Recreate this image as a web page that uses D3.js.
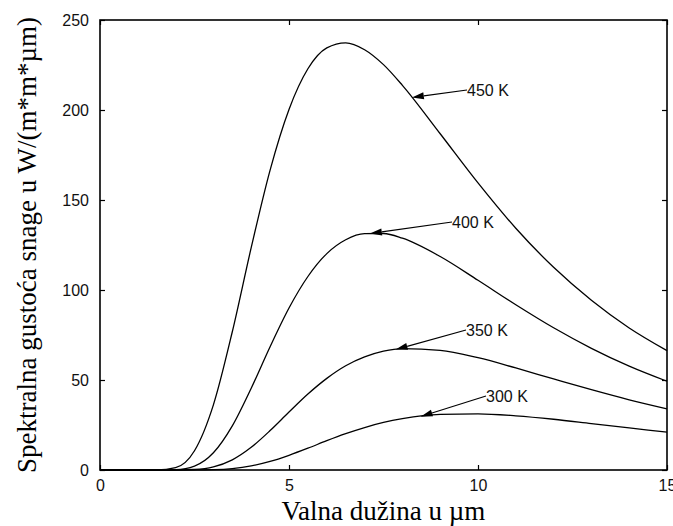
<!DOCTYPE html>
<html>
<head>
<meta charset="utf-8">
<script src="https://cdn.jsdelivr.net/npm/d3@7"></script>
<style>
  body { margin: 0; background: #fff; }
</style>
</head>
<body>
<div id="chart"></div>
<script>
// valna duzina (um) i ocitane vrijednosti za svaku temperaturu
const wavelengths = [0, 1, 1.5, 2, 2.5, 3, 3.5, 4, 4.5, 5, 5.5, 6, 6.5, 7, 7.5, 8, 9, 10, 11, 12, 13, 14, 15];
const t450 = [0, 0, 0.03, 1.3, 10.7, 36.2, 76.8, 123.5, 166.6, 200.3, 222.9, 234.5, 237.3, 233.5, 225.2, 213.7, 186.8, 159.5, 134.3, 112.6, 94.3, 78.9, 66.3];
const t400 = [0, 0, 0, 0.18, 2.16, 9.56, 24.5, 45.4, 68.5, 90.0, 107.5, 120.2, 127.9, 131.3, 131.4, 128.8, 118.6, 105.4, 91.8, 79.0, 67.6, 57.7, 49.3];
const t350 = [0, 0, 0, 0.01, 0.28, 1.72, 5.65, 12.6, 21.9, 32.2, 42.2, 50.9, 57.9, 62.8, 66.0, 67.4, 66.5, 62.4, 56.7, 50.6, 44.6, 39.0, 34.0];
const t300 = [0, 0, 0, 0, 0.02, 0.18, 0.80, 2.27, 4.77, 8.18, 12.1, 16.3, 20.2, 23.6, 26.4, 28.5, 30.9, 31.2, 30.1, 28.2, 25.8, 23.4, 21.0];

const seriesNames = ["450 K", "400 K", "350 K", "300 K"];
const seriesValues = [t450, t400, t350, t300];
const arrowTips = [8.25, 7.14, 7.82, 8.48]; // gdje strelica dodiruje krivulju

const xTicks = [0, 5, 10, 15];
const yTicks = [0, 50, 100, 150, 200, 250];

const width = 673, height = 526;
const plotLeft = 100, plotRight = 667, plotTop = 20, plotBottom = 470;

const svg = d3.select("#chart")
    .append("svg")
    .attr("width", width)
    .attr("height", height);

const x = d3.scaleLinear().domain([0, 15]).range([plotLeft, plotRight]);
const y = d3.scaleLinear().domain([0, 250]).range([plotBottom, plotTop]);

const tickFont = "'Liberation Sans', Arial, sans-serif";
const titleFont = "'Liberation Serif', 'Times New Roman', serif";

// osi - tickovi prema unutra, na sve cetiri strane
svg.append("g").attr("transform", `translate(0,${plotBottom})`)
    .call(d3.axisBottom(x).tickValues(xTicks).tickSize(-5).tickPadding(10).tickFormat(d3.format("d")));
svg.append("g").attr("transform", `translate(0,${plotTop})`)
    .call(d3.axisTop(x).tickValues(xTicks).tickSize(-5).tickFormat(""));
svg.append("g").attr("transform", `translate(${plotLeft},0)`)
    .call(d3.axisLeft(y).tickValues(yTicks).tickSize(-5).tickPadding(11).tickFormat(d3.format("d")));
svg.append("g").attr("transform", `translate(${plotRight},0)`)
    .call(d3.axisRight(y).tickValues(yTicks).tickSize(-5).tickFormat(""));

svg.selectAll(".domain").remove();
svg.selectAll(".tick line").attr("stroke", "#000").attr("stroke-width", 1.2);
svg.selectAll(".tick text")
    .attr("font-family", tickFont)
    .attr("font-size", "16px")
    .attr("fill", "#111");

svg.append("rect")
    .attr("x", plotLeft).attr("y", plotTop)
    .attr("width", plotRight - plotLeft).attr("height", plotBottom - plotTop)
    .attr("fill", "none")
    .attr("stroke", "#000")
    .attr("stroke-width", 1.6);

// krivulje
const line = d3.line()
    .x((d, i) => x(wavelengths[i]))
    .y(d => y(d))
    .curve(d3.curveMonotoneX);

svg.selectAll(".curve")
    .data(seriesValues)
    .enter().append("path")
    .attr("class", "curve")
    .attr("d", line)
    .attr("fill", "none")
    .attr("stroke", "#000")
    .attr("stroke-width", 1.3);

// oznake sa strelicama (pozicija teksta u pikselima)
const labelPos = [[467, 90], [452, 222], [466, 330], [486, 396]];

function valueAt(values, w) {
    const i = d3.bisectRight(wavelengths, w) - 1;
    const t = (w - wavelengths[i]) / (wavelengths[i + 1] - wavelengths[i]);
    return values[i] + t * (values[i + 1] - values[i]);
}

seriesNames.forEach((name, k) => {
    const tx = x(arrowTips[k]);
    const ty = y(valueAt(seriesValues[k], arrowTips[k]));
    const [lx, ly] = labelPos[k];
    const ang = Math.atan2(ly - ty, lx - tx);
    const len = 12, half = 3.5;
    const bx = tx + len * Math.cos(ang), by = ty + len * Math.sin(ang);

    svg.append("line")
        .attr("x1", lx).attr("y1", ly)
        .attr("x2", bx).attr("y2", by)
        .attr("stroke", "#000")
        .attr("stroke-width", 1.2);

    svg.append("path")
        .attr("d", `M${tx},${ty} L${bx - half * Math.sin(ang)},${by + half * Math.cos(ang)} L${bx + half * Math.sin(ang)},${by - half * Math.cos(ang)} Z`)
        .attr("fill", "#000");

    svg.append("text")
        .attr("x", lx)
        .attr("y", ly)
        .attr("dy", "0.35em")
        .attr("font-family", tickFont)
        .attr("font-size", "16px")
        .attr("fill", "#111")
        .text(name);
});

// naslovi osi
svg.append("text")
    .attr("x", (plotLeft + plotRight) / 2)
    .attr("y", 520)
    .attr("text-anchor", "middle")
    .attr("font-family", titleFont)
    .attr("font-size", "27px")
    .text("Valna dužina u µm");

svg.append("text")
    .attr("transform", `translate(36,${(plotTop + plotBottom) / 2}) rotate(-90)`)
    .attr("text-anchor", "middle")
    .attr("font-family", titleFont)
    .attr("font-size", "27px")
    .text("Spektralna gustoća snage u W/(m*m*µm)");
</script>
</body>
</html>
